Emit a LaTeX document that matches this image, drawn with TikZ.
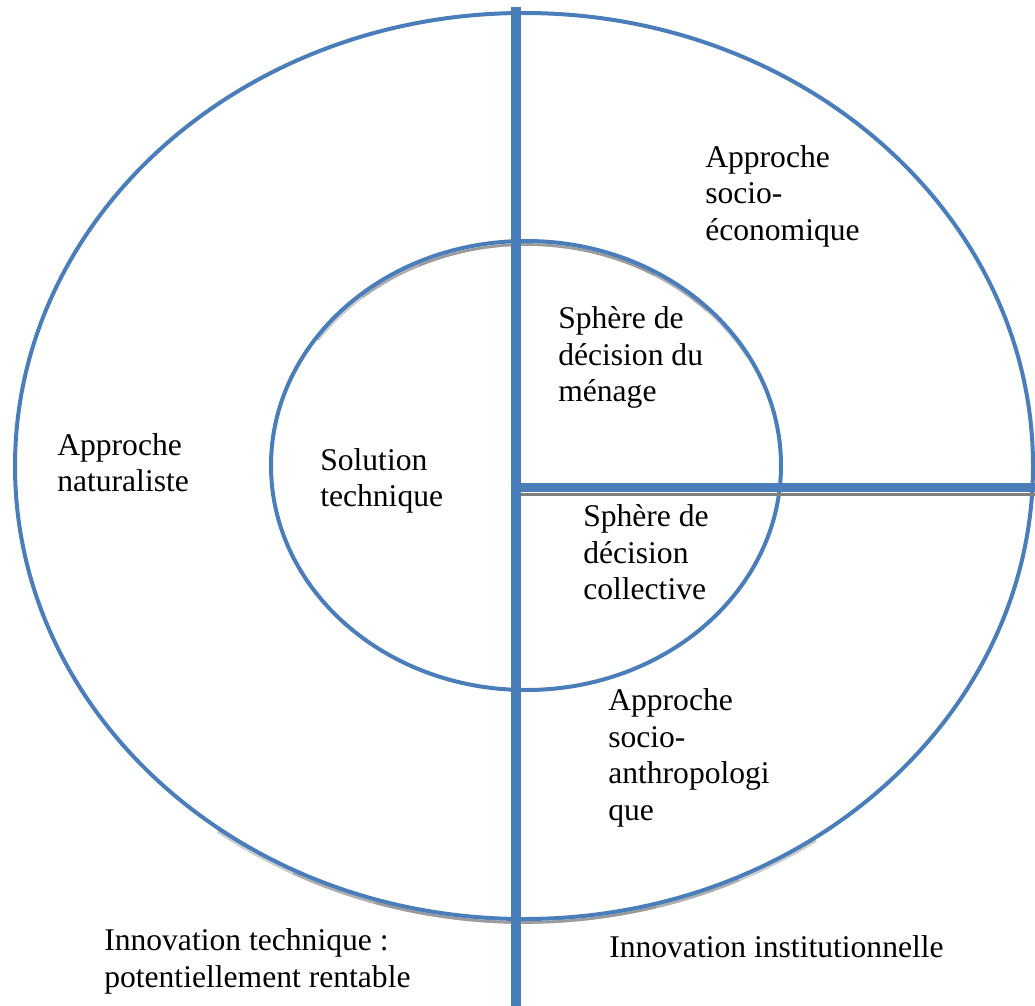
\documentclass[tikz,border=0pt]{standalone}
\usepackage{fontspec}
\setmainfont{Liberation Serif}
\definecolor{wblue}{RGB}{74,126,187}
\definecolor{wgrey}{RGB}{128,128,128}
\begin{document}
\begin{tikzpicture}[x=0.75pt,y=-0.75pt,
  lbl/.style={anchor=north west,inner sep=0pt,align=left,font=\fontsize{23.7}{27.6}\selectfont},
  ring/.style={draw=wblue,line width=3pt},
  shade/.style={draw=wgrey,line width=2pt},
  fshade/.style={draw=wgrey,line width=2pt,draw opacity=0.4},
  bar/.style={draw=wblue,line width=7pt}]
\useasboundingbox (0,0) rectangle (1035,1006);
% shadows (faded at their ends)
\foreach \a/\b in {215/330,230/315,245/300}{
  \draw[fshade] (526,465.5) ++(0.5,3.5) ++(\a:255 and 224.5) arc[start angle=\a,end angle=\b,x radius=255,y radius=224.5];
}
\foreach \a/\b in {55/127,65/117,75/107}{
  \draw[fshade] (524,466) ++(0,3.5) ++(\a:509 and 453) arc[start angle=\a,end angle=\b,x radius=509,y radius=453];
}
% rings
\draw[ring] (524,466) ellipse [x radius=509,y radius=453];
\draw[ring] (526,465.5) ellipse [x radius=255,y radius=224.5];
% bars
\coordinate (vtop) at (516,7);
\coordinate (vbot) at (516,1006);
\coordinate (hleft) at (516,487.5);
\coordinate (hright) at (1035,487.5);
\coordinate (sleft) at (520,494.5);
\coordinate (sright) at (1035,494.5);
\draw[shade] (sleft) -- (sright);
\draw[bar] (hleft) -- (hright);
\draw[bar] (vtop) -- (vbot);
% labels
\node[lbl] (eco) at (705,145) {Approche\\socio-\\économique};
\node[lbl] (men) at (558,306) {Sphère de\\décision du\\ménage};
\node[lbl] (nat) at (57,433) {Approche\\naturaliste};
\node[lbl] (sol) at (320,448) {Solution\\technique};
\node[lbl] (col) at (583,504) {Sphère de\\décision\\collective};
\node[lbl] (ant) at (608,688) {Approche\\socio-\\anthropologi\\que};
\node[lbl] (itech) at (104,928) {Innovation technique :\\potentiellement rentable};
\node[lbl] (iinst) at (609,935) {Innovation institutionnelle};
\end{tikzpicture}
\end{document}
